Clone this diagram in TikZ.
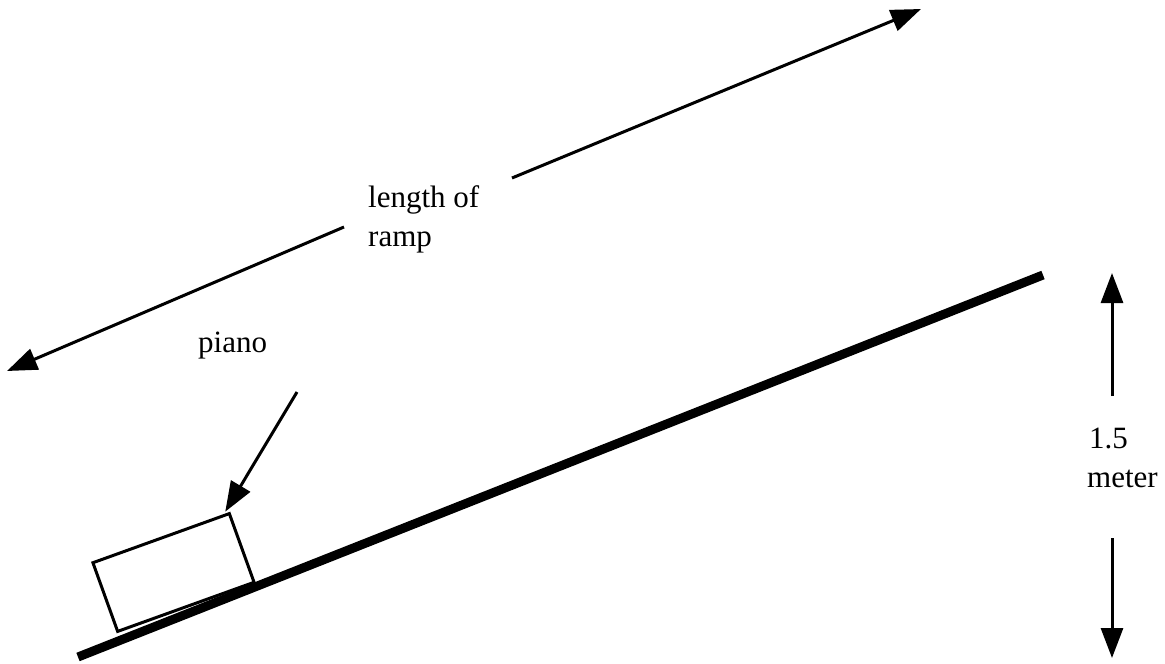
\documentclass[tikz,border=0pt]{standalone}
\usepackage{fontspec}
\setmainfont{Liberation Serif}
\usetikzlibrary{arrows.meta}
\begin{document}
\begin{tikzpicture}[x=1pt,y=-1pt,
  arr/.style={line width=3pt,-{Triangle[length=30pt,width=22pt]}},
  lbl/.style={inner sep=0pt,anchor=base west,font=\fontsize{31}{39}\selectfont},
  rampline/.style={line width=9pt},
  box/.style={draw,line width=3pt,rectangle,minimum width=145pt,minimum height=73pt,inner sep=0pt}]
\useasboundingbox (0,0) rectangle (1165,664);
% ramp
\coordinate (rampA) at (78,657);
\coordinate (rampB) at (1043,275);
\draw[rampline] (rampA) -- (rampB);
% piano
\node[box,rotate=19.8] (piano) at (173.5,572.5) {};
% labels
\node[lbl] (len1) at (368,207) {length of};
\node[lbl] (len2) at (368,246) {ramp};
\node[lbl] (pianolbl) at (198,352) {piano};
\node[lbl] (h1) at (1089,448) {1.5};
\node[lbl] (h2) at (1087,487) {meter};
% length arrows
\coordinate (topstart) at (512,178);
\coordinate (toptip) at (921,9);
\coordinate (leftstart) at (344,227);
\coordinate (lefttip) at (7,371);
\draw[arr] (topstart) -- (toptip);
\draw[arr] (leftstart) -- (lefttip);
% piano arrow
\coordinate (pstart) at (297,392);
\draw[arr] (pstart) -- ([xshift=-5pt]piano.north east);
% height arrows
\coordinate (upstart) at (1112,396);
\coordinate (uptip) at (1112,273);
\coordinate (downstart) at (1112,538);
\coordinate (downtip) at (1112,658);
\draw[arr] (upstart) -- (uptip);
\draw[arr] (downstart) -- (downtip);
\end{tikzpicture}
\end{document}
